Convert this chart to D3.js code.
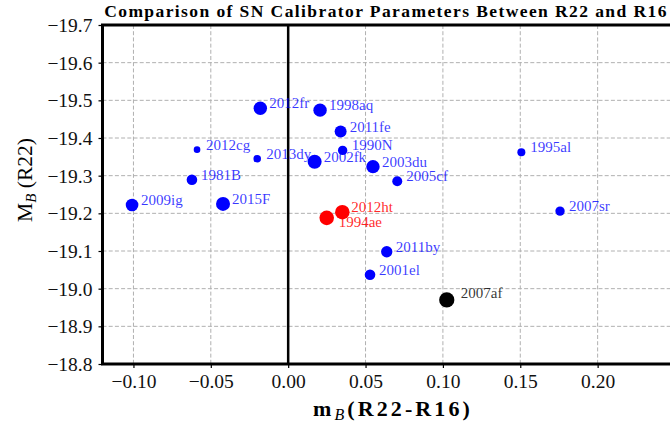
<!DOCTYPE html>
<html>
<head>
<meta charset="utf-8">
<script src="https://cdn.jsdelivr.net/npm/d3@7"></script>
<style>
  html, body { margin: 0; padding: 0; background: #fff; }
  svg { display: block; }
</style>
</head>
<body>
<svg id="chart" width="670" height="423"></svg>
<script>
// ---- data ----
const names  = ["2012fr","1998aq","2011fe","1990N","2012cg","2013dy","2002fk","2003du","2005cf","1995al",
                "1981B","2009ig","2015F","2007sr","2012ht","1994ae","2011by","2001el","2007af"];
const mbDiff = [-0.0180, 0.0206, 0.0339, 0.0352, -0.0589, -0.0200, 0.0171, 0.0548, 0.0705, 0.1507,
                -0.0622, -0.1009, -0.0421, 0.1757, 0.0350, 0.0249, 0.0637, 0.0529, 0.1025];
const MB     = [-19.479, -19.474, -19.417, -19.367, -19.369, -19.345, -19.337, -19.324, -19.285, -19.362,
                -19.289, -19.222, -19.225, -19.206, -19.203, -19.188, -19.098, -19.037, -18.970];
const weights = [45, 45, 36, 22, 11, 14, 49, 45, 25, 16,
                 28, 40, 49, 22, 53, 53, 32, 28, 58];
const groups = ["main","main","main","main","main","main","main","main","main","main",
                "main","main","main","main","highlight","highlight","main","main","outlier"];
const xTicks = [-0.10, -0.05, 0.00, 0.05, 0.10, 0.15, 0.20];
const yTicks = [-19.7, -19.6, -19.5, -19.4, -19.3, -19.2, -19.1, -19.0, -18.9, -18.8];
const xDomain = [-0.12, 0.25];
const yDomain = [-19.7, -18.8];

const titleText = "Comparison of SN Calibrator Parameters Between R22 and R16";

// ---- styles / layout ----
const colors = { main: "#0000ff", highlight: "#ff0000", outlier: "#000000" };
const labelColors = { main: "rgba(0,0,255,0.78)", highlight: "rgba(255,0,0,0.85)", outlier: "rgba(0,0,0,0.8)" };
const labelNudge = { "1994ae": [12, 9], "2007af": [14, -2] };
const serif = "'Liberation Serif', 'Times New Roman', serif";
const M = { left: 102.5, right: 675, top: 25, bottom: 364 };

const svg = d3.select("#chart");
const x = d3.scaleLinear().domain(xDomain).range([M.left, M.right]);
const y = d3.scaleLinear().domain(yDomain).range([M.top, M.bottom]);
const r = d3.scaleSqrt().domain([0, 100]).range([0, 10]);

const data = names.map((n, i) => ({ name: n, dx: mbDiff[i], mb: MB[i], w: weights[i], g: groups[i] }));

const plot = svg.append("g");

// grid
plot.append("g").selectAll("line").data(xTicks).join("line")
  .attr("x1", d => x(d)).attr("x2", d => x(d))
  .attr("y1", M.top).attr("y2", M.bottom)
  .attr("stroke", "#b0b0b0").attr("stroke-width", 1).attr("stroke-dasharray", "4,2.2");
plot.append("g").selectAll("line").data(yTicks).join("line")
  .attr("x1", M.left).attr("x2", M.right)
  .attr("y1", d => y(d)).attr("y2", d => y(d))
  .attr("stroke", "#b0b0b0").attr("stroke-width", 1).attr("stroke-dasharray", "4,2.2");

// zero line
plot.append("line")
  .attr("x1", x(0)).attr("x2", x(0)).attr("y1", M.top).attr("y2", M.bottom)
  .attr("stroke", "#000").attr("stroke-width", 2.5);

// points
plot.append("g").selectAll("circle").data(data).join("circle")
  .attr("cx", d => x(d.dx)).attr("cy", d => y(d.mb))
  .attr("r", d => r(d.w))
  .attr("fill", d => colors[d.g]);

// labels
plot.append("g").selectAll("text").data(data).join("text")
  .attr("x", d => x(d.dx) + (labelNudge[d.name] ? labelNudge[d.name][0] : 9))
  .attr("y", d => y(d.mb) + (labelNudge[d.name] ? labelNudge[d.name][1] : 0))
  .attr("font-family", serif).attr("font-size", 15)
  .attr("fill", d => labelColors[d.g])
  .text(d => d.name);

// axes
const xAxis = svg.append("g").attr("transform", `translate(0,${M.bottom})`)
  .call(d3.axisBottom(x).tickValues(xTicks).tickFormat(d => d3.format(".2f")(d).replace("-", "\u2212")).tickSize(4).tickPadding(8));
const yAxis = svg.append("g").attr("transform", `translate(${M.left},0)`)
  .call(d3.axisLeft(y).tickValues(yTicks).tickFormat(d => d3.format(".1f")(d).replace("-", "\u2212")).tickSize(4).tickPadding(6));
[xAxis, yAxis].forEach(a => {
  a.select(".domain").remove();
  a.selectAll(".tick line").attr("stroke", "#000").attr("stroke-width", 1.2);
  a.selectAll(".tick text").attr("font-family", serif).attr("font-size", 19.5).attr("fill", "#111");
});
xAxis.selectAll(".tick text").attr("dy", null).attr("y", 24);
yAxis.selectAll(".tick text").attr("dy", "0.33em");

// spines
svg.append("rect")
  .attr("x", M.left).attr("y", M.top)
  .attr("width", M.right - M.left).attr("height", M.bottom - M.top)
  .attr("fill", "none").attr("stroke", "#000").attr("stroke-width", 3);

// fit a text element to a target width through letter spacing
function fitWidth(sel, target, nChars) {
  const w = sel.node().getComputedTextLength();
  sel.attr("letter-spacing", ((target - w) / (nChars - 1)).toFixed(2));
}

// title
const title = svg.append("text")
  .attr("x", 386).attr("y", 17)
  .attr("text-anchor", "middle")
  .attr("font-family", serif).attr("font-weight", "bold").attr("font-size", 17.5)
  .attr("fill", "#000")
  .text(titleText);
fitWidth(title, 562, titleText.length);

// x label
const xl = svg.append("text")
  .attr("x", 393).attr("y", 416)
  .attr("text-anchor", "middle")
  .attr("font-family", serif).attr("font-size", 22).attr("font-weight", "bold").attr("fill", "#000");
xl.append("tspan").text("m");
xl.append("tspan").attr("font-style", "italic").attr("font-weight", "normal").attr("font-size", 16).attr("dy", 4).text("B");
xl.append("tspan").attr("dy", -4).text("(R22-R16)");
fitWidth(xl, 160, 12);

// y label
const yl = svg.append("text")
  .attr("transform", "translate(32,180) rotate(-90)")
  .attr("text-anchor", "middle")
  .attr("font-family", serif).attr("font-size", 21.5).attr("fill", "#000");
yl.append("tspan").text("M");
yl.append("tspan").attr("font-style", "italic").attr("font-size", 15).attr("dy", 4).text("B");
yl.append("tspan").attr("dy", -4).text("\u00a0(R22)");
</script>
</body>
</html>
